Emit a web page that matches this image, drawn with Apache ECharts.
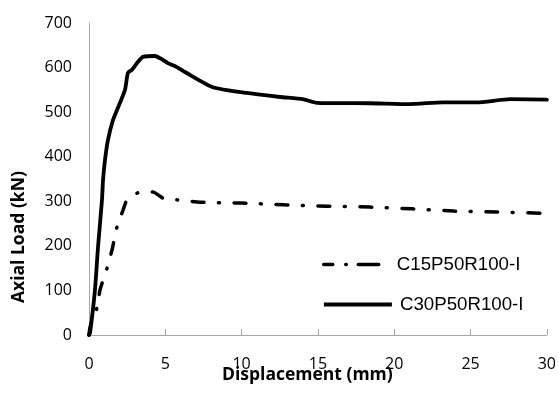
<!DOCTYPE html>
<html>
<head>
<meta charset="utf-8">
<script src="https://cdn.jsdelivr.net/npm/echarts@6/dist/echarts.min.js"></script>
<style>html,body{margin:0;padding:0;background:#fff}#c{width:559px;height:410px}</style>
</head>
<body>
<div id="c"></div>
<script>
var xTicks = [0, 5, 10, 15, 20, 25, 30];
var yTicks = [0, 100, 200, 300, 400, 500, 600, 700];
var seriesNames = ['C15P50R100-I', 'C30P50R100-I'];

var c15X = [0, 0.07, 0.52, 0.72, 1.18, 1.51, 1.83, 2.23, 2.49, 3.21, 4.19, 4.85, 5.83, 7.27, 10.0, 12.8, 15.6, 18.4, 21.2, 23.9, 26.7, 30];
var c15Y = [0, 18, 61, 101, 150, 191, 242, 280, 303, 319, 321, 307, 303, 298, 296, 292, 289, 287, 283, 278, 276, 273];

var c30X = [0, 0.07, 0.39, 0.59, 0.85, 0.92, 1.05, 1.24, 1.57, 2.03, 2.36, 2.55, 2.82, 3.21, 3.54, 4.32, 4.85, 5.17, 5.76, 6.29, 8.12, 10.35, 12.51, 14.01, 14.93, 18.4, 21.0, 23.2, 25.4, 27.6, 30];
var c30Y = [0, 5, 101, 197, 303, 348, 393, 437, 482, 521, 550, 588, 595, 613, 624, 626, 617, 610, 601, 590, 556, 543, 534, 529, 521, 520, 518, 522, 522, 529, 528];

function pairs(xs, ys) { return xs.map(function (x, i) { return [x, ys[i]]; }); }

var chart = echarts.init(document.getElementById('c'), null, { renderer: 'canvas' });
var tickFont = { fontFamily: 'Open Sans', fontSize: 16, color: '#000' };
var legendText = { fontFamily: 'Liberation Sans', fontSize: 18.7, color: '#000' };
chart.setOption({
  animation: false,
  backgroundColor: '#fff',
  grid: { left: 89, right: 12, top: 23, bottom: 75, containLabel: false },
  xAxis: {
    type: 'value', min: xTicks[0], max: xTicks[xTicks.length - 1], interval: xTicks[1] - xTicks[0],
    axisLine: { show: true, lineStyle: { color: '#a6a6a6', width: 1 } },
    axisTick: { show: true, inside: true, length: 6, lineStyle: { color: '#a6a6a6' } },
    splitLine: { show: false },
    axisLabel: Object.assign({ margin: 21 }, tickFont)
  },
  yAxis: {
    type: 'value', min: yTicks[0], max: yTicks[yTicks.length - 1], interval: yTicks[1] - yTicks[0],
    axisLine: { show: true, lineStyle: { color: '#a6a6a6', width: 1 } },
    axisTick: { show: false },
    splitLine: { show: false },
    axisLabel: Object.assign({ margin: 17 }, tickFont)
  },
  legend: [
    {
      data: [seriesNames[0]], left: 322, top: 255, padding: 0, itemWidth: 55, itemHeight: 14,
      itemStyle: { opacity: 0 },
      lineStyle: { color: '#000', width: 3.5, type: [9, 13, 0.5, 12, 30], cap: 'round' },
      textStyle: Object.assign({ padding: [0, 0, 0, 13] }, legendText)
    },
    {
      data: [seriesNames[1]], left: 322, top: 295, padding: 0, itemWidth: 68, itemHeight: 14,
      itemStyle: { opacity: 0 },
      lineStyle: { color: '#000', width: 3.8, type: 'solid', cap: 'butt' },
      textStyle: Object.assign({ padding: [0, 0, 0, 3] }, legendText)
    }
  ],
  graphic: [
    { type: 'text', left: 222, top: 366, style: { text: 'Displacement (mm)', font: 'bold 17.5px "Open Sans"', fill: '#000' } },
    { type: 'text', rotation: Math.PI / 2, x: 10, y: 303, style: { text: 'Axial Load (kN)', font: 'bold 17.5px "Open Sans"', fill: '#000' } }
  ],
  series: [
    {
      name: seriesNames[0], type: 'line', data: pairs(c15X, c15Y), symbol: 'none', smooth: 0.2,
      lineStyle: { color: '#000', width: 3.5, type: [12, 14.5, 1, 14.5], cap: 'round' },
      itemStyle: { color: '#000' }
    },
    {
      name: seriesNames[1], type: 'line', data: pairs(c30X, c30Y), symbol: 'none', smooth: 0.2,
      lineStyle: { color: '#000', width: 3.8, cap: 'round', join: 'round' },
      itemStyle: { color: '#000' }
    }
  ]
});
</script>
</body>
</html>
